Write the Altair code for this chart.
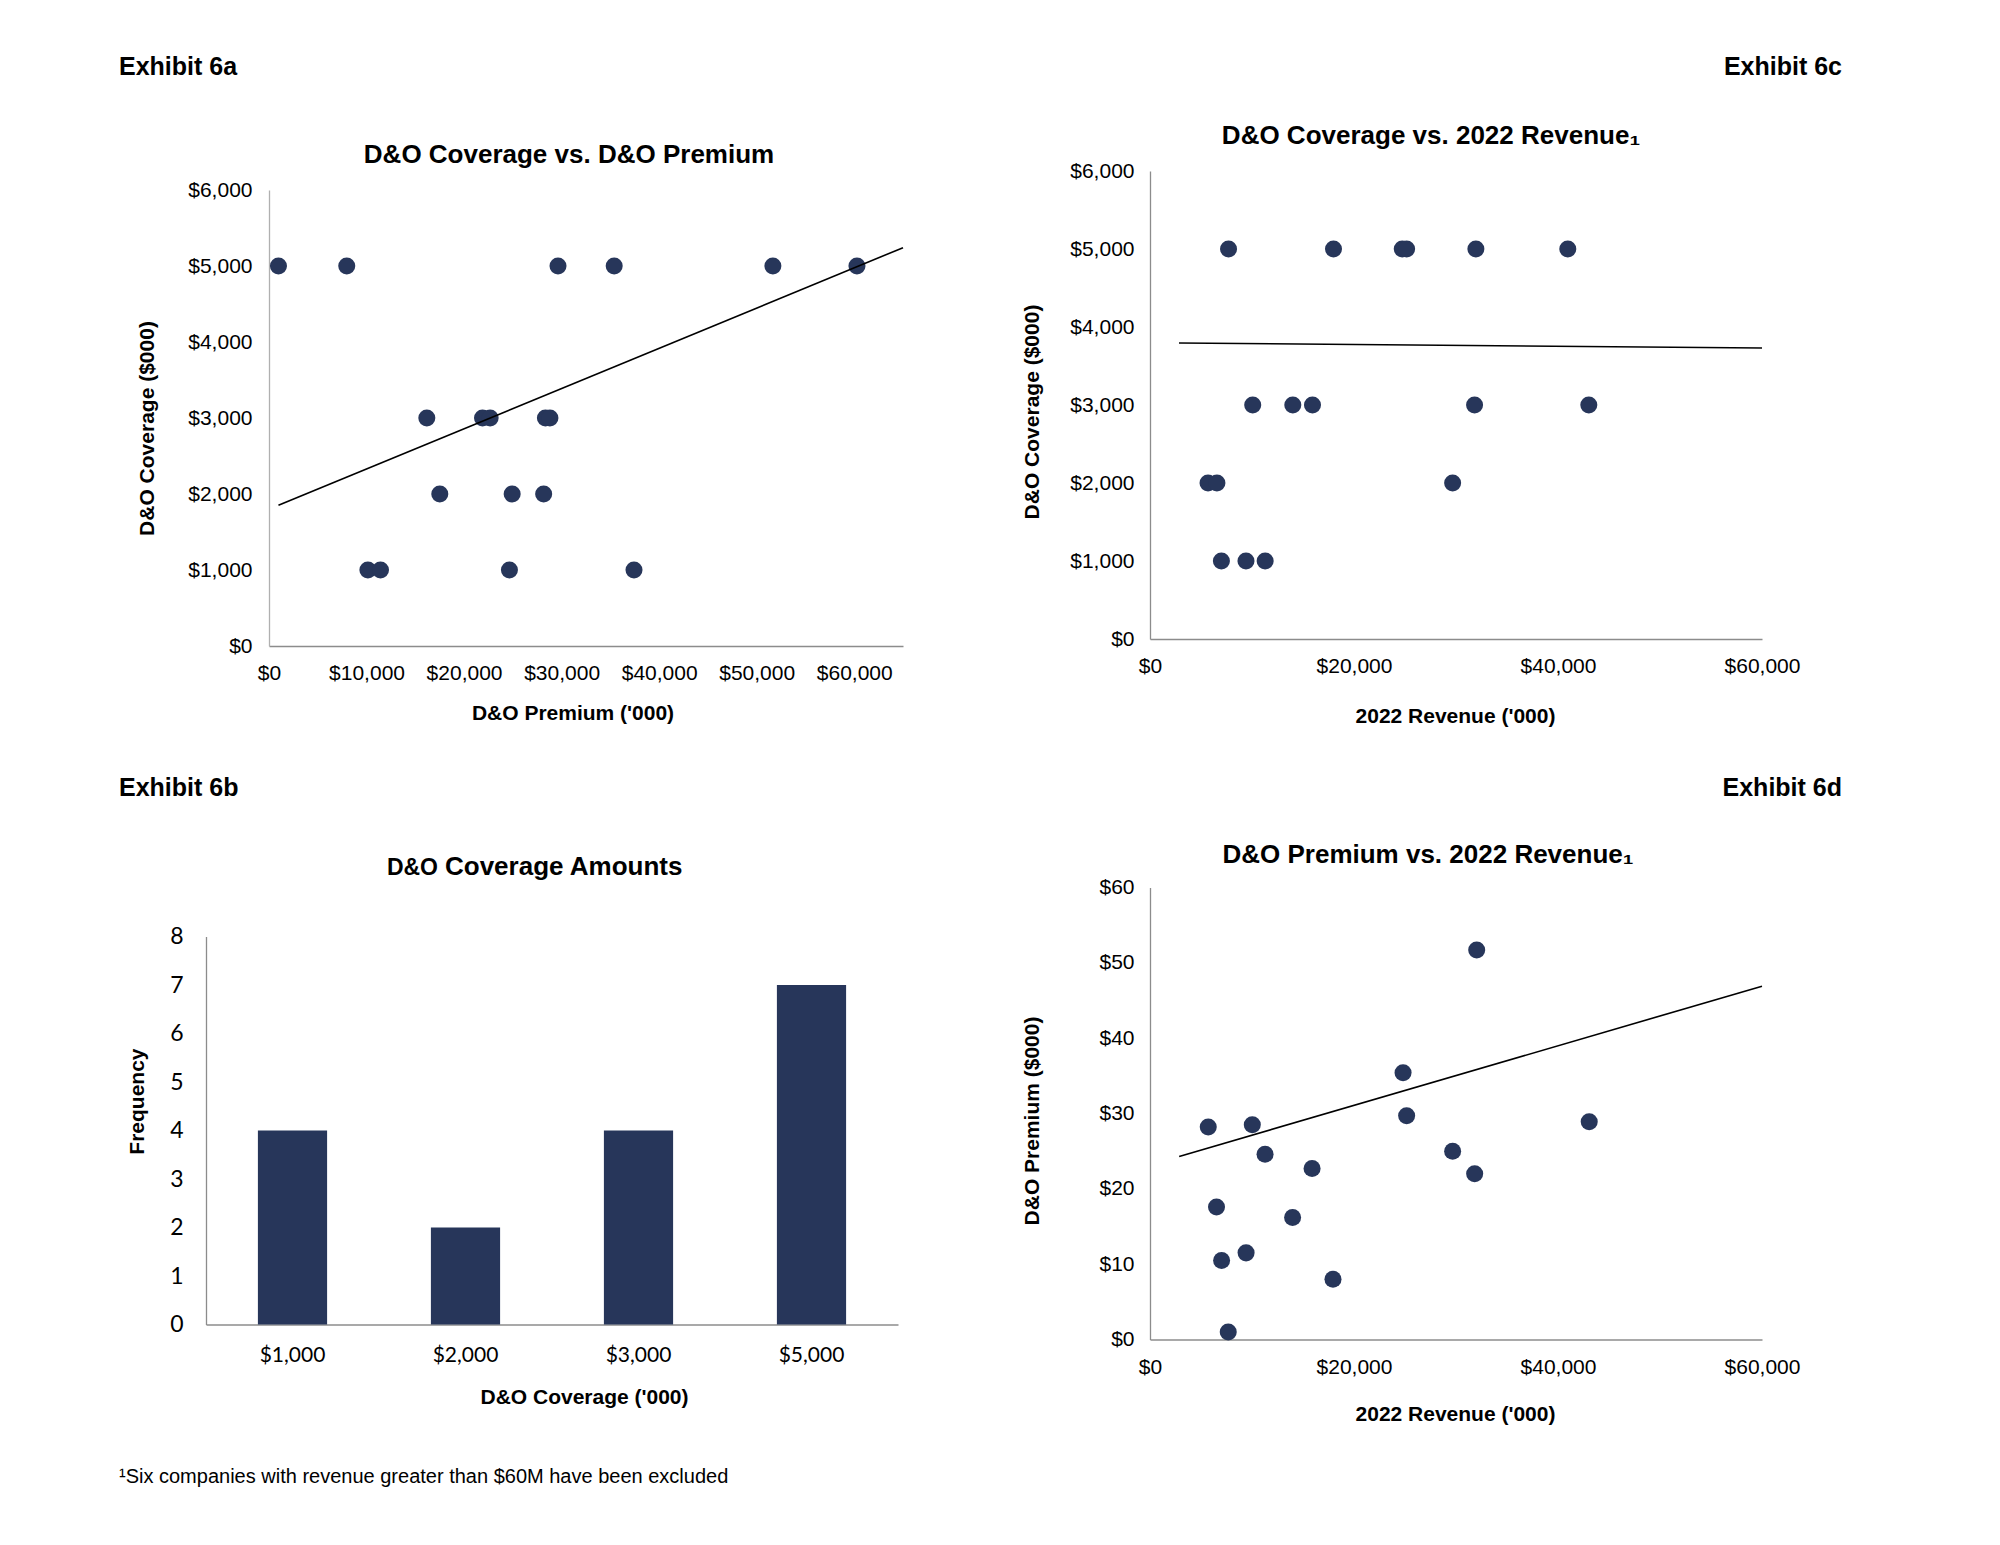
import altair as alt
import pandas as pd

NAVY = "#27365A"
ARIAL = "Liberation Sans, Arial, sans-serif"
CALIBRI = "Lato, Carlito, sans-serif"

# ---------------- Exhibit 6a : D&O Coverage vs. D&O Premium ----------------
a_premium = [970, 7970, 29630, 35390, 51660, 60280,
             16180, 21890, 22670, 28340, 28800,
             17510, 24930, 28160,
             10140, 11430, 24650, 37420]
a_coverage = [5000, 5000, 5000, 5000, 5000, 5000,
              3000, 3000, 3000, 3000, 3000,
              2000, 2000, 2000,
              1000, 1000, 1000, 1000]
a_trend_x = [970, 65000]
a_trend_y = [1851, 5241]
a_x_ticks = [0, 10000, 20000, 30000, 40000, 50000, 60000]
a_y_ticks = [0, 1000, 2000, 3000, 4000, 5000, 6000]

# ---------------- Exhibit 6c : D&O Coverage vs. 2022 Revenue ----------------
c_revenue = [7700, 17990, 24730, 25160, 31950, 40960,
             10070, 14000, 15930, 31820, 43020,
             5690, 6560, 29670,
             7000, 9410, 11290]
c_coverage = [5000, 5000, 5000, 5000, 5000, 5000,
              3000, 3000, 3000, 3000, 3000,
              2000, 2000, 2000,
              1000, 1000, 1000]
c_trend_x = [2845, 60000]
c_trend_y = [3795, 3731]
c_x_ticks = [0, 20000, 40000, 60000]
c_y_ticks = [0, 1000, 2000, 3000, 4000, 5000, 6000]

# ---------------- Exhibit 6d : D&O Premium vs. 2022 Revenue ----------------
d_revenue = [5710, 6520, 7020, 7670, 9420, 10030, 11280, 13980,
             15890, 17940, 24810, 25160, 29670, 31830, 32030, 43060]
d_premium = [28.2, 17.6, 10.5, 1.0, 11.5, 28.5, 24.6, 16.2,
             22.7, 8.0, 35.4, 29.7, 25.0, 22.0, 51.7, 28.9]
d_trend_x = [2860, 60000]
d_trend_y = [24.3, 46.9]
d_x_ticks = [0, 20000, 40000, 60000]
d_y_ticks = [0, 10, 20, 30, 40, 50, 60]

# ---------------- Exhibit 6b : D&O Coverage Amounts ----------------
b_amounts = ["$1,000", "$2,000", "$3,000", "$5,000"]
b_freq = [4, 2, 4, 7]
b_y_ticks = [0, 1, 2, 3, 4, 5, 6, 7, 8]


def txt(s, x, y, size, weight="bold", align="left", baseline="middle", font=ARIAL):
    return alt.Chart(pd.DataFrame({"t": [s]})).mark_text(
        align=align, baseline=baseline, fontSize=size, fontWeight=weight,
        font=font, color="black"
    ).encode(x=alt.value(x), y=alt.value(y), text="t:N")


def scatter(xs, ys, tx, ty, xdom, xvals, ydom, yvals, xtitle, ytitle,
            yrange, ylabpad, xlabpad, ytitle_xy, xtitle_xy, ydomcol):
    pts = pd.DataFrame({"x": xs, "y": ys})
    tr = pd.DataFrame({"x": tx, "y": ty})
    xenc = alt.X("x:Q",
                 scale=alt.Scale(domain=xdom, nice=False, zero=False),
                 axis=alt.Axis(values=xvals, format="$,.0f", title=xtitle,
                               labelPadding=xlabpad, labelFlush=False,
                               labelOverlap=False,
                               titleX=xtitle_xy[0], titleY=xtitle_xy[1],
                               titleAlign="center", titleBaseline="middle",
                               titleAngle=0))
    yenc = alt.Y("y:Q",
                 scale=alt.Scale(domain=ydom, nice=False, zero=False, range=yrange),
                 axis=alt.Axis(values=yvals, format="$,.0f", title=ytitle,
                               labelPadding=ylabpad, labelOverlap=False,
                               domainColor=ydomcol,
                               titleX=ytitle_xy[0], titleY=ytitle_xy[1],
                               titleAlign="center", titleBaseline="middle",
                               titleAngle=-90))
    p = alt.Chart(pts).mark_circle(size=290, opacity=1, color=NAVY).encode(x=xenc, y=yenc)
    l = alt.Chart(tr).mark_line(color="black", strokeWidth=1.6).encode(x=xenc, y=yenc)
    return p, l


# Row 1 shares a plot origin at y=171; panel A's plot starts 19px lower.
pA, lA = scatter(a_premium, a_coverage, a_trend_x, a_trend_y, [0, 65000], a_x_ticks,
                 [0, 6000], a_y_ticks, "D&O Premium ('000)", "D&O Coverage ($000)",
                 [475, 19], 17, 16, (-122, 257), (303.5, 67), "#b0b0b0")
A = alt.layer(
    pA, lA,
    txt("Exhibit 6a", -150, -104.5, 25),
    txt("D&O Coverage vs. D&O Premium", 300, -16.4, 26, align="center"),
).properties(width=634, height=475)

pC, lC = scatter(c_revenue, c_coverage, c_trend_x, c_trend_y, [0, 60000], c_x_ticks,
                 [0, 6000], c_y_ticks, "2022 Revenue ('000)", "D&O Coverage  ($000)",
                 [468, 0], 16, 16.5, (-118, 240.5), (305, 77), "#8c8c8c")
C = alt.layer(
    pC, lC,
    txt("Exhibit 6c", 692, -104.5, 25, align="right"),
    txt("D&O Coverage vs. 2022 Revenue\u2081", 281, -35.5, 26, align="center"),
).properties(width=612, height=468)

# Row 2 shares a plot origin at y=888; panel B's plot starts 49px lower.
pD, lD = scatter(d_revenue, d_premium, d_trend_x, d_trend_y, [0, 60000], d_x_ticks,
                 [0, 60], d_y_ticks, "2022 Revenue ('000)", "D&O Premium  ($000)",
                 [452, 0], 16, 17, (-118, 233), (305, 75), "#8c8c8c")
D = alt.layer(
    pD, lD,
    txt("Exhibit 6d", 692, -99.5, 25, align="right"),
    txt("D&O Premium vs. 2022 Revenue\u2081", 278, -33, 26, align="center"),
).properties(width=612, height=452)

# Panel B shares its column origin with panel A; its plot begins 63px further left.
bdf = pd.DataFrame({"amt": b_amounts, "f": b_freq})
bars = alt.Chart(bdf).mark_bar(color=NAVY).encode(
    x=alt.X("amt:N", sort=b_amounts,
            scale=alt.Scale(paddingInner=0.6, paddingOuter=0.3, range=[-63, 629]),
            axis=alt.Axis(labelAngle=0, labelFont=CALIBRI, labelFontSize=21,
                          labelPadding=20, title="D&O Coverage ('000)",
                          titleX=315, titleY=73, titleAlign="center",
                          titleBaseline="middle", titleAngle=0)),
    y=alt.Y("f:Q", scale=alt.Scale(domain=[0, 8], nice=False, range=[437, 49]),
            axis=alt.Axis(values=b_y_ticks, labelFont=CALIBRI, labelFontSize=23,
                          labelPadding=23, title="Frequency", offset=63,
                          titleX=-69, titleY=213.6, titleAlign="center",
                          titleBaseline="middle", titleAngle=-90)),
)
B = alt.layer(
    bars,
    txt("Exhibit 6b", -150, -99.5, 25),
    txt("D&O", 169, -12.2, 23, align="right", baseline="alphabetic"),
    txt("Coverage Amounts", 176, -12.2, 26, align="left", baseline="alphabetic"),
    txt("\u00b9Six companies with revenue greater than $60M have been excluded",
        -150, 589, 20, weight="normal"),
).properties(width=629, height=437)

row1 = alt.hconcat(A, C, spacing=114)
row2 = alt.hconcat(B, D, spacing=60)

chart = alt.vconcat(row1, row2, spacing=49.5).properties(
    padding={"left": 111, "top": 46, "right": 10, "bottom": 10},
    background="white",
).configure_view(
    stroke=None
).configure_axis(
    ticks=False, grid=False, domainColor="#8c8c8c", domainWidth=1.3,
    labelFont=ARIAL, labelFontSize=21, labelColor="black",
    titleFont=ARIAL, titleFontSize=21, titleFontWeight="bold", titleColor="black",
)

chart.save("out.html", embed_options={"renderer": "svg", "actions": False})
